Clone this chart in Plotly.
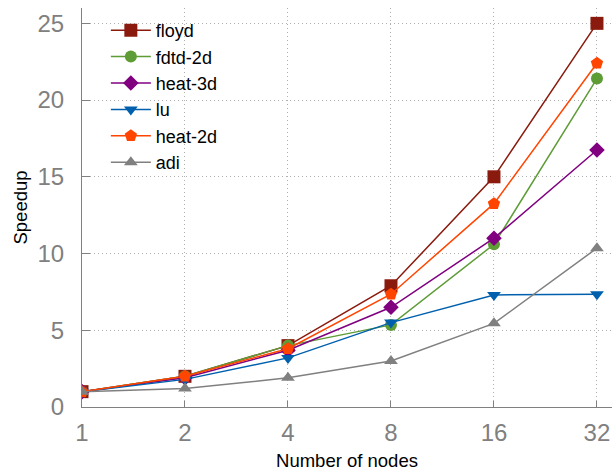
import plotly.graph_objects as go
import math

nodes = [1, 2, 4, 8, 16, 32]
tick_labels = ["1", "2", "4", "8", "16", "32"]

floyd = [1.0, 2.0, 4.0, 7.9, 15.0, 25.0]
fdtd_2d = [1.0, 2.0, 4.0, 5.35, 10.6, 21.4]
heat_3d = [1.0, 1.9, 3.7, 6.5, 11.0, 16.75]
lu = [1.0, 1.8, 3.2, 5.5, 7.3, 7.35]
heat_2d = [1.0, 2.0, 3.8, 7.35, 13.25, 22.4]
adi = [1.0, 1.2, 1.9, 3.0, 5.45, 10.35]

series = [
    ("floyd", floyd, "#8b1a0e", "square", 13),
    ("fdtd-2d", fdtd_2d, "#5e9c36", "circle", 12),
    ("heat-3d", heat_3d, "#800080", "diamond", 12),
    ("lu", lu, "#0060ad", "triangle-down", 12),
    ("heat-2d", heat_2d, "#ff4500", "pentagon", 13),
    ("adi", adi, "#808080", "triangle-up", 12),
]

fig = go.Figure()
for name, vals, color, sym, sz in series:
    fig.add_trace(go.Scatter(
        x=nodes, y=vals, name=name, mode="lines+markers",
        line=dict(color=color, width=1.5),
        marker=dict(symbol=sym, size=sz, color=color, line=dict(width=0)),
    ))

font = "Liberation Sans, Arial, sans-serif"
fig.update_layout(
    width=614, height=474,
    margin=dict(l=82, r=2, t=8, b=67, autoexpand=False),
    paper_bgcolor="white", plot_bgcolor="white",
    font=dict(family=font, color="black"),
    showlegend=True,
    legend=dict(x=0.045, y=0.99, xanchor="left", yanchor="top",
                font=dict(size=18, color="black"), bgcolor="rgba(0,0,0,0)",
                tracegroupgap=0, itemwidth=40),
)
grid = dict(showgrid=True, gridcolor="#b0b0b0", griddash="1px,3px", gridwidth=1)
fig.update_xaxes(
    type="log", range=[0, math.log10(32) + 0.146 * math.log10(2)],
    tickvals=nodes, ticktext=tick_labels,
    tickfont=dict(size=24, color="#808080"),
    showline=True, linecolor="#808080", linewidth=1,
    ticks="inside", ticklen=6, tickcolor="#808080",
    zeroline=False, automargin=False, ticklabelstandoff=4,
    title=dict(text="Number of nodes", font=dict(size=18.5, color="black"), standoff=9),
    **grid,
)
fig.update_yaxes(
    range=[0, 26], tickvals=[0, 5, 10, 15, 20, 25],
    tickfont=dict(size=24, color="#808080"),
    showline=True, linecolor="#808080", linewidth=1,
    ticks="inside", ticklen=8, tickcolor="#808080",
    zeroline=False, automargin=False, ticklabelstandoff=12,
    title=dict(text="Speedup", font=dict(size=18.5, color="black"), standoff=5),
    **grid,
)

fig.write_html("out.html", config={"displayModeBar": False},
               post_script="document.body.style.margin='0px';")
